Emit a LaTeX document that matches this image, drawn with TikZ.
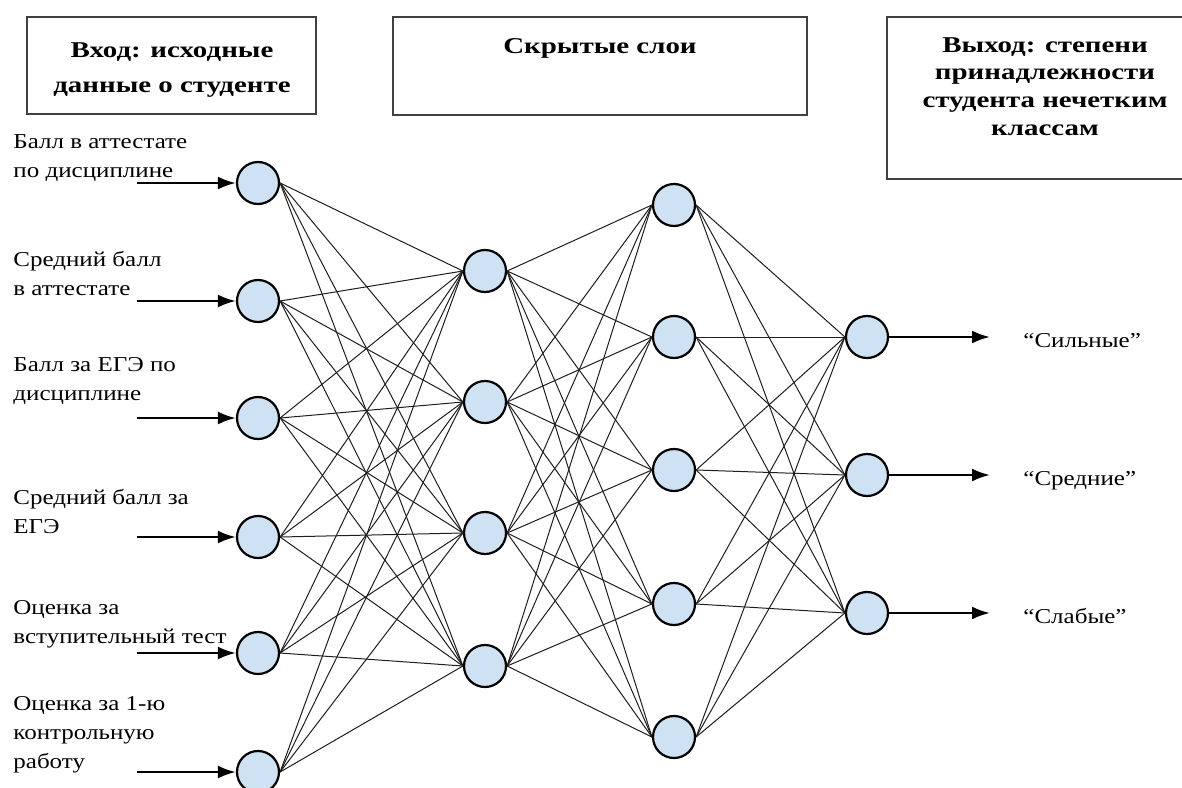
\documentclass[tikz,border=0pt]{standalone}
\usepackage{fontspec}
\setmainfont[FakeStretch=1.18]{Liberation Serif}
\newfontfamily\headfont[FakeStretch=1.28]{Liberation Serif Bold}
\usepackage{tikz}
\usetikzlibrary{positioning, arrows.meta, calc}
\definecolor{neuronfill}{HTML}{CFE2F3}
\definecolor{edge}{HTML}{1E1E1E}

\begin{document}
\begin{tikzpicture}[x=0.5pt, y=-0.5pt,
    neuron/.style={circle, draw=black, line width=1.1pt, fill=neuronfill, minimum size=21pt, inner sep=0pt},
    titlebox/.style={draw=black!75, line width=0.7pt},
    link/.style={draw=edge, line width=0.5pt},
    feed/.style={-{Latex[length=9pt, width=6.5pt]}, line width=1.3pt},
    inlabel/.style={anchor=base west, align=left, inner sep=0pt, font=\fontsize{10.6}{14.5}\selectfont},
    outlabel/.style={anchor=base west, inner sep=0pt, font=\fontsize{10.6}{14.5}\selectfont},
    title/.style={anchor=base, align=center, inner sep=0pt, font=\fontsize{11.3}{13.8}\headfont}]
    \useasboundingbox (0,0) rectangle (1182,787);

    % header boxes
    \draw[titlebox] (27,17) rectangle (316,114);
    \draw[titlebox] (393,17) rectangle (807,115);
    \draw[titlebox] (887,17) rectangle (1200,179);
    \node[title, font=\fontsize{11.3}{17.5}\headfont] (tin) at (172,92) {Вход: исходные\\данные о студенте};
    \node[title] (thid) at (600,53) {Скрытые слои};
    \node[title] (tout) at (1045,135) {Выход: степени\\принадлежности\\студента нечетким\\классам};

    % layers
    \foreach \y [count=\i] in {183,301,418,537,653,772}
      \node[neuron] (a\i) at (258,\y) {};
    \foreach \y [count=\i] in {271,402,533,666}
      \node[neuron] (b\i) at (485,\y) {};
    \foreach \y [count=\i] in {205,337,470,604,737}
      \node[neuron] (c\i) at (674,\y) {};
    \foreach \y [count=\i] in {337,475,613}
      \node[neuron] (d\i) at (867,\y) {};

    % weights
    \foreach \i in {1,...,6}
      \foreach \j in {1,...,4}
        \draw[link] (a\i.east) -- (b\j.west);
    \foreach \i in {1,...,4}
      \foreach \j in {1,...,5}
        \draw[link] (b\i.east) -- (c\j.west);
    \foreach \i in {1,...,5}
      \foreach \j in {1,...,3}
        \draw[link] (c\i.east) -- (d\j.west);

    % inputs
    \foreach \i/\y in {1/183,2/301,3/418,4/537,5/653,6/772} {
      \coordinate (s\i) at (137,\y);
      \draw[feed] (s\i) -- (a\i.west);
    }
    \node[inlabel] (l1) at (13,177) {Балл в аттестате\\по дисциплине};
    \node[inlabel] (l2) at (13,295) {Средний балл\\в аттестате};
    \node[inlabel] (l3) at (13,400) {Балл за ЕГЭ по\\дисциплине};
    \node[inlabel] (l4) at (13,533) {Средний балл за\\ЕГЭ};
    \node[inlabel] (l5) at (13,643) {Оценка за\\вступительный тест};
    \node[inlabel] (l6) at (13,768) {Оценка за 1-ю\\контрольную\\работу};

    % outputs
    \foreach \i/\y/\name in {1/337/Сильные,2/475/Средние,3/613/Слабые} {
      \coordinate (e\i) at (990,\y);
      \draw[feed] (d\i.east) -- (e\i);
      \node[outlabel] (o\i) at (1023,\y+10) {“\name”};
    }
\end{tikzpicture}
\end{document}
